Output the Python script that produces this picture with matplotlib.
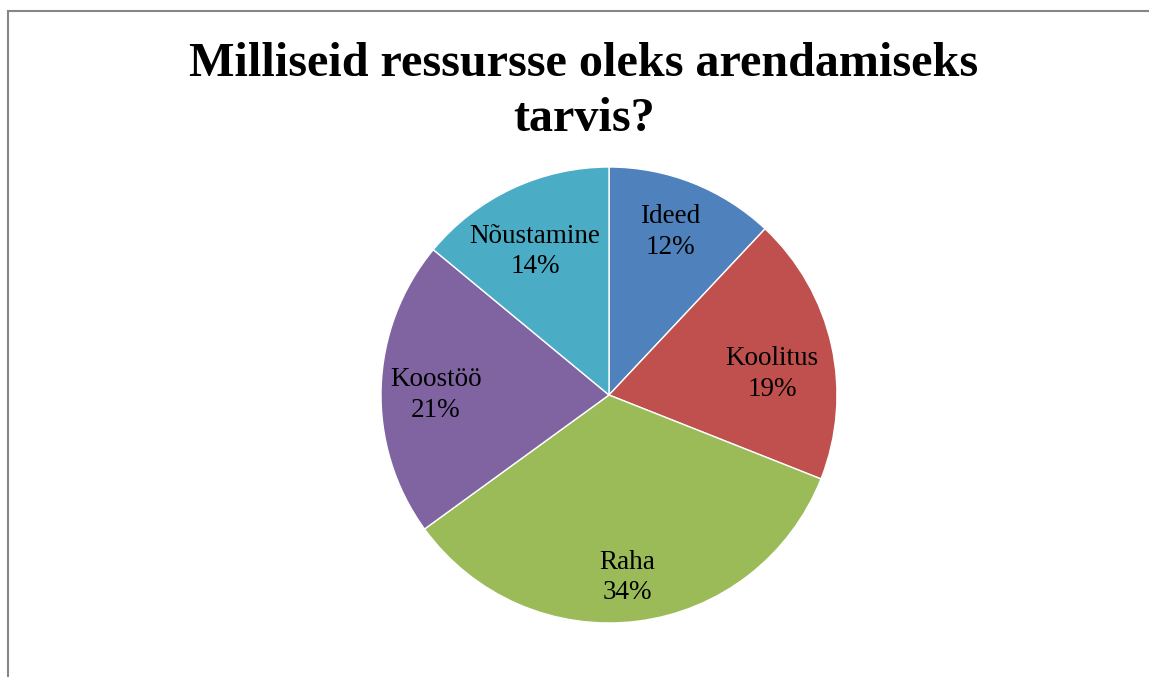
import matplotlib
matplotlib.use("Agg")
import matplotlib.pyplot as plt
from matplotlib.patches import Rectangle

categories = ["Ideed", "Koolitus", "Raha", "Koostöö", "Nõustamine"]
values = [12, 19, 34, 21, 14]
colors = ["#4F81BD", "#C0504D", "#9BBB59", "#8064A2", "#4BACC6"]
title_lines = ["Milliseid ressursse oleks arendamiseks", "tarvis?"]

W, H = 1149, 677
fig = plt.figure(figsize=(W / 100, H / 100), dpi=100)
fig.patch.set_facecolor("white")

# chart border (extends past right/bottom)
fig.add_artist(Rectangle((8 / W, -0.05), 1.2, 1 - 11 / H + 0.05,
                         transform=fig.transFigure, fill=False,
                         edgecolor="#868686", linewidth=1.5))

cx, cy, r = 609, H - 395, 228
ax = fig.add_axes([(cx - r) / W, (cy - r) / H, 2 * r / W, 2 * r / H])
total = sum(values)
labels = [f"{c}\n{round(v / total * 100)}%" for c, v in zip(categories, values)]
wedges, texts = ax.pie(values, colors=colors, startangle=90, counterclock=False,
                       labels=labels, labeldistance=0.76,
                       wedgeprops=dict(edgecolor="white", linewidth=1),
                       textprops=dict(fontfamily="Liberation Serif", fontsize=19.5,
                                      color="black", ha="center", va="center",
                                      linespacing=1.3))
# best-fit label placement (fractions of radius), like the original layout
label_pos = [(0.268, 0.715), (0.715, 0.092), (0.08, -0.80), (-0.76, 0.0), (-0.325, 0.63)]
for t, p in zip(texts, label_pos):
    t.set_position(p)
ax.set_xlim(-1, 1)
ax.set_ylim(-1, 1)
ax.set_aspect("equal")
ax.axis("off")

for line, base in zip(title_lines, [76, 131]):
    fig.text(584 / W, 1 - base / H, line, ha="center", va="baseline",
             fontfamily="Liberation Serif", fontweight="bold", fontsize=34.7)

fig.savefig("out.png", dpi=100, facecolor="white")
